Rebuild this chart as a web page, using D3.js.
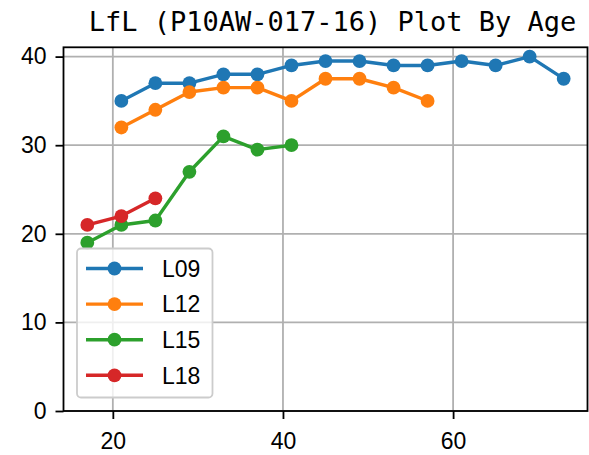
<!DOCTYPE html>
<html>
<head>
<meta charset="utf-8">
<script src="https://cdn.jsdelivr.net/npm/d3@7"></script>
<style>
	body { margin: 0; background: #fff; }
	svg { display: block; }
	.tick text { font-family: "Liberation Sans", Arial, sans-serif; font-size: 23px; fill: #000; }
</style>
</head>
<body>
<div id="chart"></div>
<script>
// data
var titleText = "LfL (P10AW-017-16) Plot By Age";
var seriesNames = ["L09", "L12", "L15", "L18"];
var seriesColors = ["#1f77b4", "#ff7f0e", "#2ca02c", "#d62728"];

var ageL09 = [21, 25, 29, 33, 37, 41, 45, 49, 53, 57, 61, 65, 69, 73];
var valL09 = [35, 37, 37, 38, 38, 39, 39.5, 39.5, 39, 39, 39.5, 39, 40, 37.5];

var ageL12 = [21, 25, 29, 33, 37, 41, 45, 49, 53, 57];
var valL12 = [32, 34, 36, 36.5, 36.5, 35, 37.5, 37.5, 36.5, 35];

var ageL15 = [17, 21, 25, 29, 33, 37, 41];
var valL15 = [19, 21, 21.5, 27, 31, 29.5, 30];

var ageL18 = [17, 21, 25];
var valL18 = [21, 22, 24];

var xTicks = [20, 40, 60];
var yTicks = [0, 10, 20, 30, 40];

var width = 589, height = 455;
var plotLeft = 63.5, plotRight = 587.5, plotTop = 47.3, plotBottom = 411;

function pairs(a, v){
	return a.map(function(d, i){ return { age: d, val: v[i] }; });
}
var series = [pairs(ageL09, valL09), pairs(ageL12, valL12), pairs(ageL15, valL15), pairs(ageL18, valL18)];

var x = d3.scaleLinear().domain([14.2, 75.8]).range([plotLeft, plotRight]);
var y = d3.scaleLinear().domain([0, 41.05]).range([plotBottom, plotTop]);

var svg = d3.select("#chart").append("svg").attr("width", width).attr("height", height);

// grid
var grid = svg.append("g").attr("class", "grid");
grid.selectAll("line.gx").data(xTicks).enter().append("line")
	.attr("x1", function(d){ return x(d); }).attr("x2", function(d){ return x(d); })
	.attr("y1", plotTop).attr("y2", plotBottom)
	.attr("stroke", "#b0b0b0").attr("stroke-width", 1.8);
grid.selectAll("line.gy").data(yTicks).enter().append("line")
	.attr("y1", function(d){ return y(d); }).attr("y2", function(d){ return y(d); })
	.attr("x1", plotLeft).attr("x2", plotRight)
	.attr("stroke", "#b0b0b0").attr("stroke-width", 1.8);

// lines and markers
var line = d3.line()
	.x(function(d){ return x(d.age); })
	.y(function(d){ return y(d.val); });

series.forEach(function(s, i){
	svg.append("path")
		.attr("d", line(s))
		.attr("fill", "none")
		.attr("stroke", seriesColors[i])
		.attr("stroke-width", 3.4)
		.attr("stroke-linejoin", "round")
		.attr("stroke-linecap", "square");
	svg.append("g").selectAll("circle").data(s).enter().append("circle")
		.attr("cx", function(d){ return x(d.age); })
		.attr("cy", function(d){ return y(d.val); })
		.attr("r", 6.9)
		.attr("fill", seriesColors[i]);
});

// axes
var xAxis = d3.axisBottom(x).tickValues(xTicks).tickSize(8).tickPadding(8).tickFormat(d3.format("d"));
var yAxis = d3.axisLeft(y).tickValues(yTicks).tickSize(8).tickPadding(9).tickFormat(d3.format("d"));

var gx = svg.append("g").attr("transform", "translate(0," + plotBottom + ")").call(xAxis);
var gy = svg.append("g").attr("transform", "translate(" + plotLeft + ",0)").call(yAxis);
[gx, gy].forEach(function(g){
	g.select(".domain").remove();
	g.selectAll(".tick line").attr("stroke", "#000").attr("stroke-width", 1.8);
});
gx.selectAll(".tick text").attr("dy", "0.95em");

// frame
svg.append("rect")
	.attr("x", plotLeft).attr("y", plotTop)
	.attr("width", plotRight - plotLeft).attr("height", plotBottom - plotTop)
	.attr("fill", "none").attr("stroke", "#000").attr("stroke-width", 1.8);

// title
svg.append("text")
	.attr("x", 332.5).attr("y", 31)
	.attr("text-anchor", "middle")
	.style("font-family", "'DejaVu Sans Mono', monospace")
	.style("font-size", "27px")
	.attr("fill", "#000")
	.text(titleText);

// legend
var legend = svg.append("g").attr("transform", "translate(77,248.5)");
legend.append("rect")
	.attr("width", 135.5).attr("height", 149)
	.attr("rx", 4).attr("ry", 4)
	.attr("fill", "#fff").attr("fill-opacity", 0.8)
	.attr("stroke", "#cccccc").attr("stroke-width", 1.8);

var rows = legend.selectAll("g.row").data(seriesNames).enter().append("g")
	.attr("transform", function(d, i){ return "translate(0," + (20 + i * 35.6) + ")"; });
rows.append("line")
	.attr("x1", 9).attr("x2", 66)
	.attr("stroke", function(d, i){ return seriesColors[i]; })
	.attr("stroke-width", 3.4);
rows.append("circle")
	.attr("cx", 37.5).attr("r", 6.9)
	.attr("fill", function(d, i){ return seriesColors[i]; });
rows.append("text")
	.attr("x", 85).attr("dy", "0.36em")
	.style("font-family", "'Liberation Sans', Arial, sans-serif")
	.style("font-size", "23px")
	.attr("fill", "#000")
	.text(function(d){ return d; });
</script>
</body>
</html>
